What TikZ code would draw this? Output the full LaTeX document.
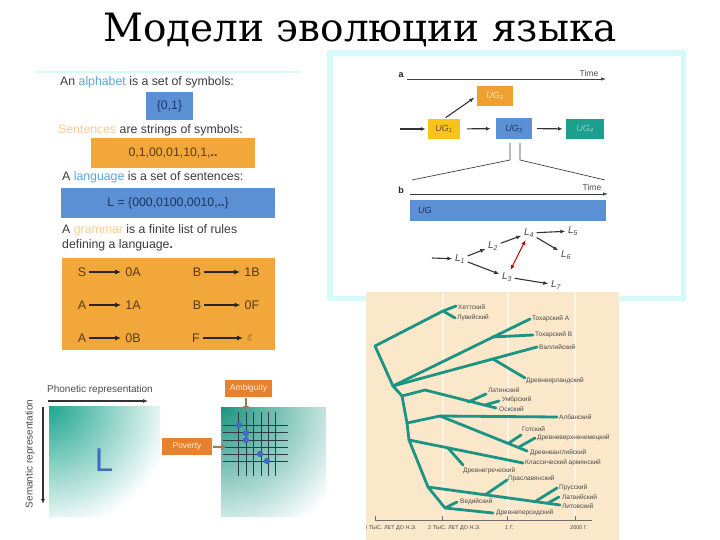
\documentclass[tikz,border=0pt]{standalone}
\usepackage{fontspec}
\setmainfont{Liberation Sans}
\newfontfamily\titlefont{DejaVu Serif}
\usetikzlibrary{arrows.meta}
\definecolor{cyanline}{HTML}{D6FAFA}
\definecolor{boxblue}{HTML}{5B90D4}
\definecolor{boxorange}{HTML}{F2A73A}
\definecolor{wordblue}{HTML}{5AA5D5}
\definecolor{wordorange}{HTML}{F7CB8E}
\definecolor{txtgray}{HTML}{3A3A3A}
\definecolor{rulebrown}{HTML}{5A3A14}
\definecolor{navy}{HTML}{1F3562}
\definecolor{ugyellow}{HTML}{F7C41C}
\definecolor{ugorange}{HTML}{F0A030}
\definecolor{ugteal}{HTML}{1BA08E}
\definecolor{treebg}{HTML}{FBE8CB}
\definecolor{gridlight}{HTML}{FDF4E8}
\definecolor{treeteal}{HTML}{1C9483}
\definecolor{treetext}{HTML}{4A4A4A}
\definecolor{shteal}{HTML}{1FA58E}
\definecolor{ambor}{HTML}{E8812E}
\definecolor{gridline}{HTML}{2B3B4A}
\definecolor{dotblue}{HTML}{3F6CC0}

\begin{document}
\begin{tikzpicture}[x=1pt,y=-1pt,
    txt/.style={anchor=west,inner sep=0pt,text=txtgray,font=\fontsize{12.3}{14}\selectfont},
    bluebox/.style={fill=boxblue,inner sep=0pt,text=navy,font=\fontsize{12.3}{14}\selectfont},
    orangebox/.style={fill=boxorange,inner sep=0pt,text=rulebrown,font=\fontsize{12.3}{14}\selectfont},
    sym/.style={inner sep=0pt,text=rulebrown,font=\fontsize{12.5}{14}\selectfont},
    rulearrow/.style={-{Latex[length=6pt,width=5pt]},line width=1.2pt,draw=black!85},
    ug/.style={inner sep=0pt,minimum height=20pt,font=\fontsize{9}{11}\selectfont\itshape},
    lang/.style={inner sep=2.5pt,text=treetext,font=\fontsize{10}{12}\selectfont\itshape},
    arr/.style={-{Latex[length=5pt,width=4pt]},line width=1.1pt,draw=black!80},
    thin/.style={line width=0.7pt,draw=black!75},
    br/.style={draw=treeteal,line width=2.8pt,line cap=round,line join=round},
    tl/.style={anchor=west,inner sep=0pt,text=treetext,font=\fontsize{6.5}{7}\selectfont},
    ax/.style={anchor=west,inner sep=0pt,text=treetext,font=\fontsize{5.5}{6}\selectfont},
    tag/.style={fill=ambor,inner sep=0pt,text=orange!15,font=\fontsize{8.5}{10}\selectfont},
    hollow/.style={-{Triangle[length=4pt,width=6pt]},line width=2.2pt,draw=brown!70!black!80}]
  \useasboundingbox (0,0) rectangle (720,540);

  \node (title) at (360,30) {\titlefont\fontsize{39}{44}\selectfont Модели эволюции языка};

  % left panel
  \draw[cyanline,line width=2.5pt] (35,72) -- (302,72);
  \node[txt] (alpha) at (60,82) {An {\color{wordblue}alphabet} is a set of symbols:};
  \node[bluebox,minimum width=47pt,minimum height=28pt] (sigma) at (169.5,106) {\{0,1\}};
  \node[txt] (sent) at (58,130) {{\color{wordorange}Sentences} are strings of symbols:};
  \node[orangebox,minimum width=164pt,minimum height=30pt] (strings) at (173,153) {0,1,00,01,10,1,\textbf{..}};
  \node[txt] (langtxt) at (62,177) {A {\color{wordblue}language} is a set of sentences:};
  \node[bluebox,minimum width=214pt,minimum height=30pt] (lset) at (168,203) {L = \{000,0100,0010,\textbf{..}\}};
  \node[txt] (gram1) at (62,230) {A {\color{wordorange}grammar} is a finite list of rules};
  \node[txt] (gram2) at (62,245) {defining a language\textbf{.}};
  \node[fill=boxorange,minimum width=213pt,minimum height=92pt] (rules) at (168.5,304) {};
  \node[sym] (r1a) at (82,272) {S};   \node[sym] (r1b) at (133,272) {0A};
  \node[sym] (r2a) at (82,305) {A};   \node[sym] (r2b) at (133,305) {1A};
  \node[sym] (r3a) at (82,338) {A};   \node[sym] (r3b) at (133,338) {0B};
  \node[sym] (r4a) at (197,272) {B};  \node[sym] (r4b) at (252,272) {1B};
  \node[sym] (r5a) at (197,305) {B};  \node[sym] (r5b) at (252,305) {0F};
  \node[sym] (r6a) at (196,338) {F};  \node[sym] (r6b) at (250,338) {$\varepsilon$};
  \draw[rulearrow,shorten <=3pt,shorten >=4pt]
    (r1a) edge (r1b) (r2a) edge (r2b) (r3a) edge (r3b)
    (r4a) edge (r4b) (r5a) edge (r5b) (r6a) -- (r6b);

  % top right panel
  \fill[cyanline] (327,50) rectangle (686,301);
  \fill[white] (333,56) rectangle (681,296);
  \coordinate (ta0) at (407,79);
  \coordinate (ta1) at (606,79);
  \draw[thin,-{Latex[length=5pt,width=3.5pt]}] (ta0) -- (ta1);
  \node[font=\bfseries\fontsize{9}{10}\selectfont,text=black!85] (a) at (401,75) {a};
  \node[font=\fontsize{8.5}{10}\selectfont,text=black!70] (time1) at (589,73) {Time};
  \node[ug,fill=ugyellow,minimum width=32pt,text=brown!60!black] (UG1) at (444,129) {UG\textsubscript{1}};
  \node[ug,fill=ugorange,minimum width=36pt,text=orange!20] (UG2) at (495,96) {UG\textsubscript{2}};
  \node[ug,fill=boxblue,minimum width=36pt,minimum height=21pt,text=navy] (UG3) at (514,128.5) {UG\textsubscript{3}};
  \node[ug,fill=ugteal,minimum width=38pt,text=teal!40] (UG4) at (585,129) {UG\textsubscript{4}};
  \coordinate (in1) at (400,129);
  \draw[arr,shorten >=2pt] (in1) -- (UG1);
  \draw[arr,shorten <=7pt,shorten >=5pt] (UG1) -- (UG3);
  \draw[arr,shorten <=5pt,shorten >=3pt] (UG3) -- (UG4);
  \draw[arr,shorten <=2pt,shorten >=3pt] (UG1.north) -- (UG2.west);
  \coordinate (s1) at (510,143); \coordinate (k1) at (510,160); \coordinate (e1) at (412,180);
  \coordinate (s2) at (520,143); \coordinate (k2) at (520,160); \coordinate (e2) at (605,180);
  \draw[thin] (s1) -- (k1) -- (e1);
  \draw[thin] (s2) -- (k2) -- (e2);
  \coordinate (tb0) at (410,194);
  \coordinate (tb1) at (608,194);
  \draw[thin,-{Latex[length=5pt,width=3.5pt]}] (tb0) -- (tb1);
  \node[font=\bfseries\fontsize{9}{10}\selectfont,text=black!85] (b) at (401,190) {b};
  \node[font=\fontsize{8.5}{10}\selectfont,text=black!70] (time2) at (592,187) {Time};
  \node[fill=boxblue,text width=180pt,inner xsep=8pt,inner ysep=0pt,minimum height=21pt,align=left,text=navy,font=\fontsize{9}{11}\selectfont] (UG) at (508,210.5) {\textit{UG}};
  \node[lang] (L1) at (460,259) {L\textsubscript{1}};
  \node[lang] (L2) at (493,246) {L\textsubscript{2}};
  \node[lang] (L3) at (507,277) {L\textsubscript{3}};
  \node[lang] (L4) at (529,233) {L\textsubscript{4}};
  \node[lang] (L5) at (573,231) {L\textsubscript{5}};
  \node[lang] (L6) at (566,255) {L\textsubscript{6}};
  \node[lang] (L7) at (556,285) {L\textsubscript{7}};
  \coordinate (in2) at (432,258);
  \draw[arr] (in2) -- (L1);
  \draw[arr] (L1) -- (L2);
  \draw[arr] (L2) -- (L4);
  \draw[arr] (L4) -- (L5);
  \draw[arr] (L4) -- (L6);
  \draw[arr] (L1) -- (L3);
  \draw[arr] (L3) -- (L7);
  \draw[{Latex[length=5pt,width=4pt]}-{Latex[length=5pt,width=4pt]},line width=1.1pt,draw=red!75!black] (L4) -- (L3);

  % tree
  \begin{scope}
    \clip (366,292) rectangle (619,540);
    \fill[treebg] (366,292) rectangle (619,540);
    \foreach \gx in {443,508,575} \draw[gridlight,line width=1.5pt] (\gx,292) -- (\gx,518);
    \coordinate (root) at (375,346);
    \coordinate (hl) at (443,311);
    \coordinate (hett) at (456,306);
    \coordinate (luw) at (455,318);
    \coordinate (t1) at (393,386);
    \coordinate (t2) at (402,396);
    \coordinate (t3) at (407,423);
    \coordinate (t4) at (409,440);
    \coordinate (t5) at (428,487);
    \coordinate (t6) at (445,508);
    \coordinate (tochA) at (530,319);
    \coordinate (tb) at (492,337);
    \coordinate (tochB) at (533,335);
    \coordinate (wel) at (537,347);
    \coordinate (cb) at (493,359);
    \coordinate (oir) at (525,378);
    \coordinate (it1) at (425,390);
    \coordinate (osk) at (496,408);
    \coordinate (lb) at (468,402);
    \coordinate (lat) at (486,394);
    \coordinate (ub) at (485,405);
    \coordinate (umb) at (499,401);
    \coordinate (alb0) at (440,416);
    \coordinate (alb) at (557,417);
    \coordinate (eng) at (527,451);
    \coordinate (g0) at (509,443);
    \coordinate (goth) at (521,435);
    \coordinate (g1) at (519,447);
    \coordinate (ohg) at (535,438);
    \coordinate (arm) at (523,463);
    \coordinate (gr0) at (448,448);
    \coordinate (gre) at (463,465);
    \coordinate (lit) at (560,505);
    \coordinate (sl0) at (485,495);
    \coordinate (sla) at (507,480);
    \coordinate (pr0) at (536,501);
    \coordinate (pru) at (557,488);
    \coordinate (lv0) at (548,503);
    \coordinate (lv) at (559,497);
    \coordinate (per) at (493,513);
    \coordinate (ved) at (457,502);
    \draw[br] (root) -- (hl) -- (hett);
    \draw[br] (hl) -- (luw);
    \draw[br] (root) -- (t1) -- (t2) -- (t3) -- (t4) -- (t5) -- (t6) -- (per);
    \draw[br] (t1) -- (tochA);
    \draw[br] (tb) -- (tochB);
    \draw[br] (t1) -- (wel);
    \draw[br] (cb) -- (oir);
    \draw[br] (t2) -- (it1) -- (osk);
    \draw[br] (lb) -- (lat);
    \draw[br] (ub) -- (umb);
    \draw[br] (t3) -- (alb0) -- (alb);
    \draw[br] (alb0) -- (eng);
    \draw[br] (g0) -- (goth);
    \draw[br] (g1) -- (ohg);
    \draw[br] (t4) -- (arm);
    \draw[br] (gr0) -- (gre);
    \draw[br] (t5) -- (lit);
    \draw[br] (sl0) -- (sla);
    \draw[br] (pr0) -- (pru);
    \draw[br] (lv0) -- (lv);
    \draw[br] (t6) -- (ved);
    \node[tl] (nhett) at (458,307) {Хеттский};
    \node[tl] (nluw) at (457,318) {Лувийский};
    \node[tl] (ntochA) at (532,319) {Тохарский А};
    \node[tl] (ntochB) at (535,335) {Тохарский В};
    \node[tl] (nwel) at (539,347) {Валлийский};
    \node[tl] (noir) at (526,381) {Древнеирландский};
    \node[tl] (nlat) at (488,390) {Латинский};
    \node[tl] (numb) at (502,400) {Умбрский};
    \node[tl] (nosk) at (499,409) {Оскский};
    \node[tl] (nalb) at (559,417) {Албанский};
    \node[tl] (ngoth) at (522,429) {Готский};
    \node[tl] (nohg) at (537,438) {Древневерхненемецкий};
    \node[tl] (neng) at (530,453) {Древнеанглийский};
    \node[tl] (narm) at (525,463) {Классический армянский};
    \node[tl] (ngre) at (463,471) {Древнегреческий};
    \node[tl] (nsla) at (508,479) {Праславянский};
    \node[tl] (npru) at (559,488) {Прусский};
    \node[tl] (nlv) at (562,497) {Латвийский};
    \node[tl] (nlit) at (562,506) {Литовский};
    \node[tl] (nved) at (460,502) {Ведийский};
    \node[tl] (nper) at (496,513) {Древнеперсидский};
    \draw[treetext!80,line width=0.6pt] (375,520) -- (592,520);
    \foreach \gx in {375,442,507,575} \draw[treetext!80,line width=0.6pt] (\gx,520) -- (\gx,516);
    \node[ax] (ax1) at (364,528) {4 ТЫС. ЛЕТ ДО Н.Э.};
    \node[ax] (ax2) at (428,528) {2 ТЫС. ЛЕТ ДО Н.Э.};
    \node[ax] (ax3) at (505,528) {1 Г.};
    \node[ax] (ax4) at (570,528) {2000 Г.};
  \end{scope}

  % bottom left
  \begin{scope}
    \clip (49,406) rectangle (160,516);
    \shade[inner color=shteal,outer color=white] (49,406) circle (125);
  \end{scope}
  \begin{scope}
    \clip (221,407) rectangle (326,516);
    \shade[inner color=shteal!90!black,outer color=white] (221,407) circle (140);
  \end{scope}
  \node[inner sep=0pt,text=black!70,font=\fontsize{10}{11}\selectfont] (phon) at (100,390) {Phonetic representation};
  \node[inner sep=0pt,rotate=90,text=black!70,font=\fontsize{10}{11}\selectfont] (sem) at (30,454) {Semantic representation};
  \coordinate (ph0) at (48,401); \coordinate (ph1) at (148,401);
  \coordinate (se0) at (43,407); \coordinate (se1) at (43,504);
  \draw[line width=1.3pt,black!80,-{Latex[length=5pt,width=4pt]}] (ph0) -- (ph1);
  \draw[line width=1.3pt,black!80,-{Latex[length=5pt,width=4pt]}] (se0) -- (se1);
  \node[text=dotblue,font=\fontsize{33}{36}\selectfont] (Lbig) at (104,460) {L};
  \foreach \gx in {238,246,253,261,268,275} \draw[gridline,line width=1pt] (\gx,412) -- (\gx,476);
  \foreach \gy in {425,432,440,447,454,461} \draw[gridline,line width=1pt] (223,\gy) -- (288,\gy);
  \foreach \dx/\dy in {239/425,246/433,246/440,260/454,267/461} \fill[dotblue] (\dx,\dy) circle (3.2);
  \node[tag,minimum width=47pt,minimum height=17pt] (amb) at (248.5,388.5) {Ambiguity};
  \node[tag,minimum width=50pt,minimum height=17pt] (pov) at (187,446.5) {Poverty};
  \coordinate (ga) at (246,410);
  \coordinate (pa) at (226,447);
  \draw[hollow,shorten <=1pt] (amb.south -| ga) -- (ga);
  \draw[hollow,shorten <=1pt] (pov) -- (pa);
\end{tikzpicture}
\end{document}
